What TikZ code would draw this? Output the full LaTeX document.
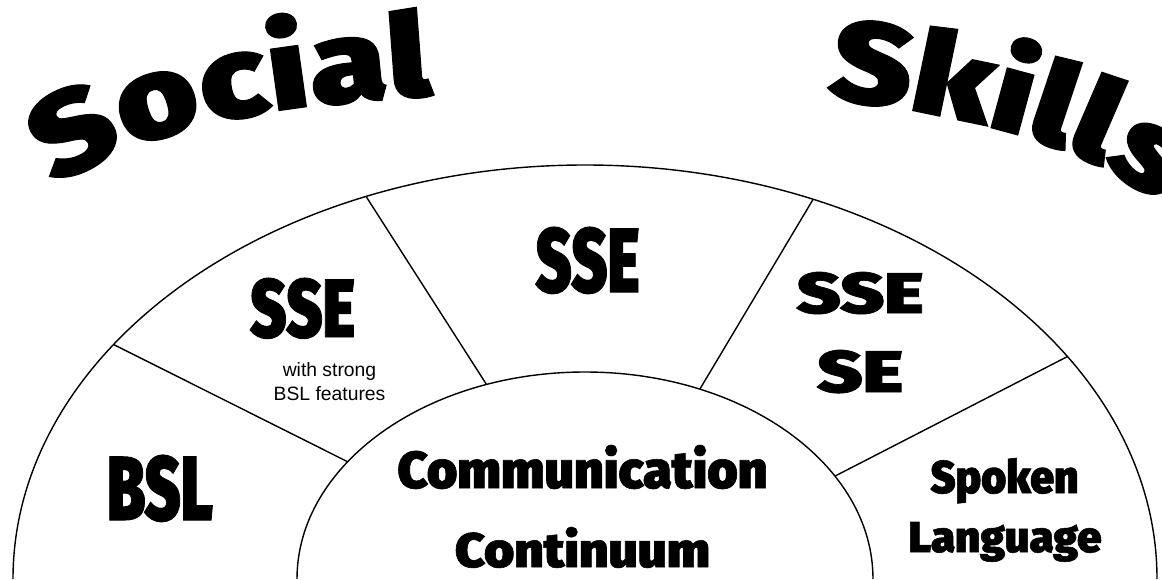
\documentclass[tikz,border=0pt]{standalone}
\usepackage{fontspec}
\usepackage{graphicx}
\usetikzlibrary{calc,decorations.text}

\newfontfamily\heavyfont{Fira Sans Black}[FakeBold=1.2]
\newfontfamily\archfont{Fira Sans Black}[FakeStretch=1.2, FakeBold=1]
\newfontfamily\plainfont{Liberation Sans}
\newlength\unitpx
\setlength\unitpx{0.02cm}
\newcommand\wordart{\archfont\fontsize{66}{70}\selectfont}
% squeeze a heavy label into a box of the given width and height
\newcommand\fitlabel[3]{\resizebox{#1\unitpx}{#2\unitpx}{\heavyfont #3}}

\begin{document}
\begin{tikzpicture}
[x=0.02cm, y=0.02cm,
ring/.style={draw=black, line width=0.8pt},
spoke/.style={draw=black, line width=0.8pt},
sector/.style={inner sep=0pt, anchor=base},
note/.style={inner sep=0pt, align=center, font=\plainfont\fontsize{11}{13.6}\selectfont},
arch/.style={decorate, decoration={text along path, text align={fit to path}, text={|\wordart|#1}}}]

\useasboundingbox (0,0) rectangle (1162,579);

% the two half rings
\coordinate (c) at (585,0);
\draw[ring] ($(c)+(572,0)$) arc[start angle=0, end angle=180, x radius=572, y radius=414];
\draw[ring] ($(c)+(288,0)$) arc[start angle=0, end angle=180, x radius=288, y radius=207];

% ends of the dividing lines
\coordinate (i1) at ($(c)+(145.5:288 and 207)$);
\coordinate (o1) at ($(c)+(145.5:572 and 414)$);
\coordinate (i2) at ($(c)+(110:288 and 207)$);
\coordinate (o2) at ($(c)+(112.5:572 and 414)$);
\coordinate (i3) at ($(c)+(66.5:288 and 207)$);
\coordinate (o3) at ($(c)+(66.5:572 and 414)$);
\coordinate (i4) at ($(c)+(29.8:288 and 207)$);
\coordinate (o4) at ($(c)+(32.5:572 and 414)$);

\draw[spoke] (i1) -- (o1);
\draw[spoke] (i2) -- (o2);
\draw[spoke] (i3) -- (o3);
\draw[spoke] (i4) -- (o4);

% arched title
\path[arch=Social] (55,392) .. controls (155.6,457.4) and (282.4,473.5) .. (432,484);
\path[arch=Skills] (826,481) .. controls (945.1,466.4) and (1093.4,435.6) .. (1150,379);

% sector labels
\node (bsl) [sector] at (160,59) {\fitlabel{106}{65}{BSL}};
\node (ssel) [sector] at (302.5,242) {\fitlabel{105}{59}{SSE}};
\node (strong) [note] at (329.5,197) {with strong\\BSL features};
\node (ssem) [sector] at (587.5,287) {\fitlabel{104}{65}{SSE}};
\node (sser) [sector] at (860,266) {\fitlabel{127}{41}{SSE}};
\node (se) [sector] at (860,187) {\fitlabel{86}{42}{SE}};
\node (spoken) [sector] at (1004.5,86) {\fitlabel{148}{35}{Spoken}};
\node (lang) [sector] at (1005,27) {\fitlabel{193}{30}{Language}};

% centre
\node (comm) [sector] at (582.5,91) {\fitlabel{370}{43}{Communication}};
\node (cont) [sector] at (582.5,12) {\fitlabel{255}{40}{Continuum}};

\end{tikzpicture}
\end{document}
